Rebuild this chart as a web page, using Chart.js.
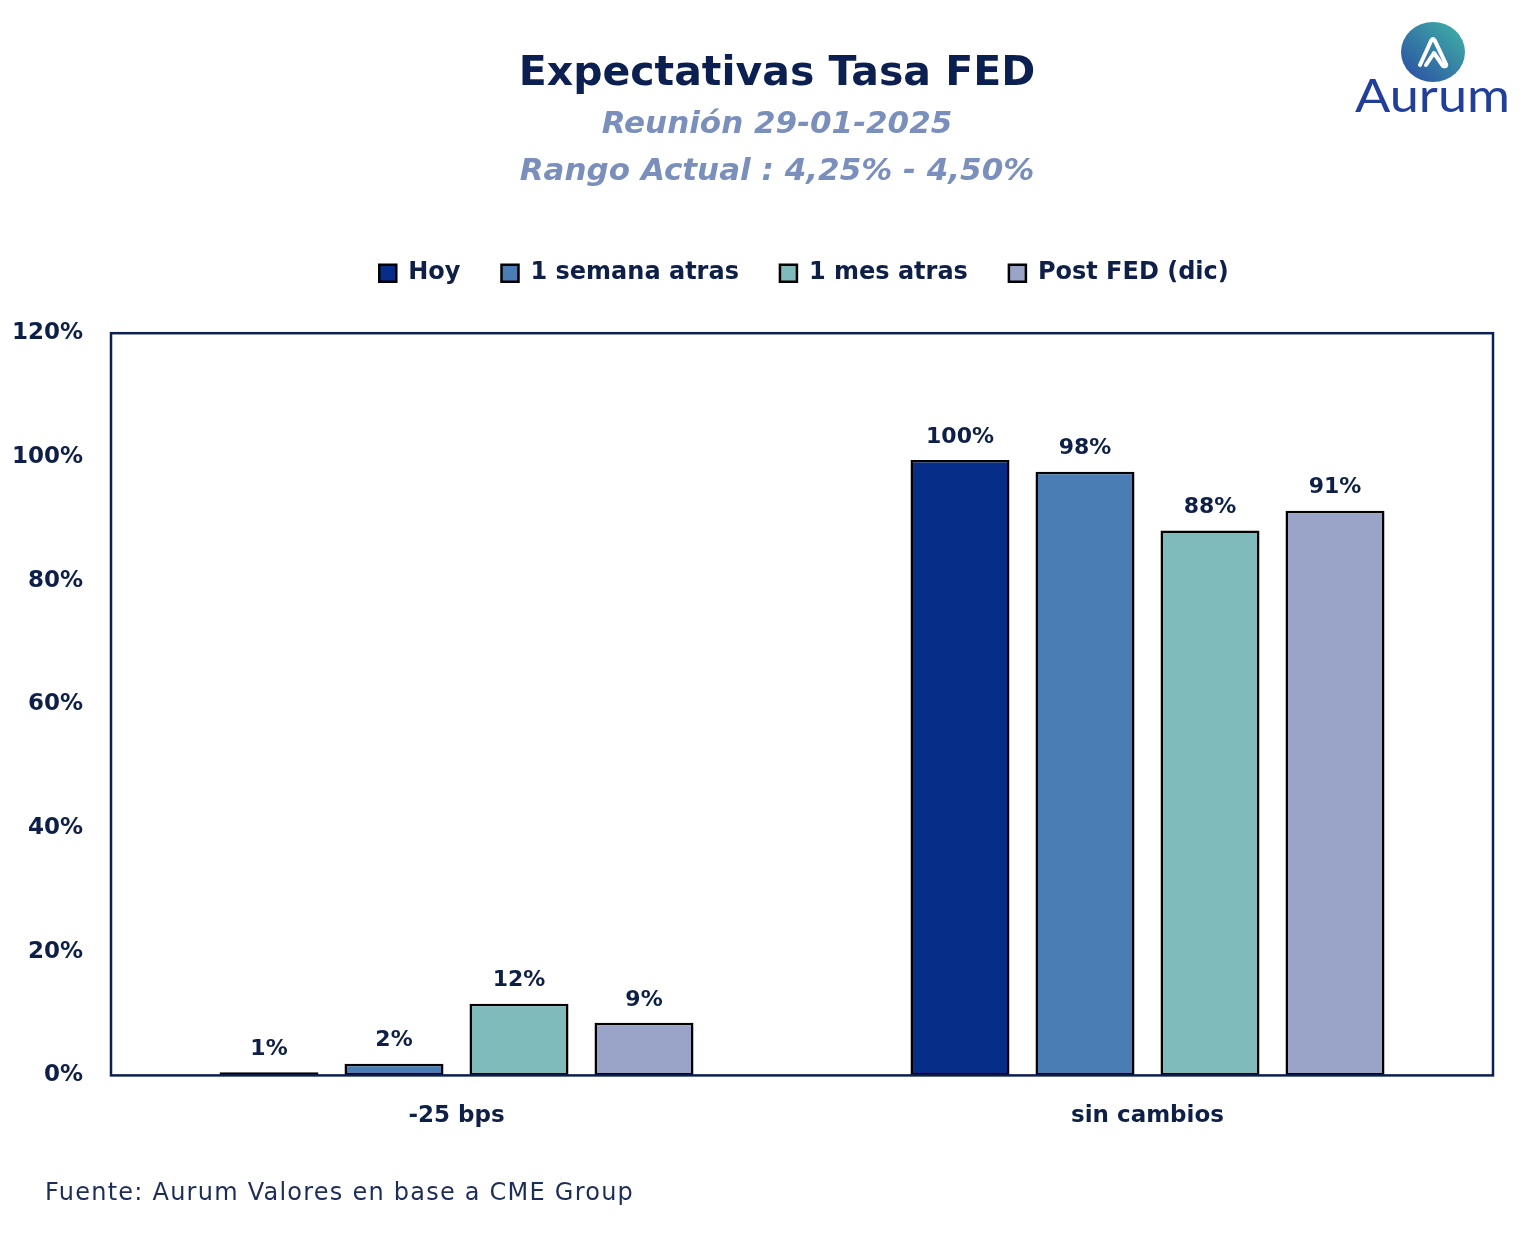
<!DOCTYPE html>
<html>
<head>
<meta charset="utf-8">
<script src="https://cdn.jsdelivr.net/npm/chart.js@4.4.1/dist/chart.umd.min.js"></script>
<style>
html, body { margin: 0; padding: 0; background: #fff; }
#wrap { position: relative; width: 1540px; height: 1260px; }
#logo { position: absolute; left: 1350px; top: 18px; }
</style>
</head>
<body>
<div id="wrap">
  <canvas id="myChart" width="1540" height="1260"></canvas>
  <svg id="logo" width="170" height="105" viewBox="0 0 170 105">
    <defs>
      <linearGradient id="lg" x1="0" y1="1" x2="1" y2="0">
        <stop offset="0" stop-color="#2a4aa4"/>
        <stop offset="1" stop-color="#41b5a6"/>
      </linearGradient>
    </defs>
    <ellipse cx="83" cy="34" rx="32" ry="30" fill="url(#lg)"/>
    <path d="M70 47 L81 23 Q83 19 85 23 L96 46 Q97 49 93 48 L84 35 L76 47" fill="none" stroke="#fff" stroke-width="4" stroke-linecap="round" stroke-linejoin="round"/>
    <text x="5" y="94" textLength="155" lengthAdjust="spacingAndGlyphs" font-family="Lato" font-size="46" fill="#213f99">Aurum</text>
  </svg>
</div>
<script>
const categories = ['-25 bps', 'sin cambios'];
const seriesNames = ['Hoy', '1 semana atras', '1 mes atras', 'Post FED (dic)'];
const hoy = [0.5, 99.5];
const unaSemana = [1.9, 97.6];
const unMes = [11.6, 88.1];
const postFed = [8.5, 91.3];
const seriesColors = ['#062d87', '#4a7db3', '#7fbbbb', '#9aa3c8'];
const yMax = 120;
const yStep = 20;

const navy = '#0b2050';
const textColor = '#0e2047';
Chart.defaults.font.family = '"DejaVu Sans"';
Chart.defaults.color = textColor;

// legend has no bottom margin option, so stretch its box a bit
// and nudge it right like in the original
const legendGap = {
  id: 'legendGap',
  beforeInit(chart) {
    const legend = chart.legend;
    const fit = legend.fit;
    legend.fit = function () {
      fit.call(this);
      this.height += 38;
      this.lineWidths[0] -= 54;
    };
  },
  afterLayout(chart) {
    // titles sit a little right of the page centre
    chart.boxes.forEach(b => {
      if (b.position === 'top') b.left += 61;
    });
  }
};

const barLabels = {
  id: 'barLabels',
  afterDatasetsDraw(chart) {
    const ctx = chart.ctx;
    ctx.save();
    ctx.font = 'bold 22px "DejaVu Sans"';
    ctx.fillStyle = textColor;
    ctx.textAlign = 'center';
    ctx.textBaseline = 'middle';
    chart.data.datasets.forEach((ds, i) => {
      chart.getDatasetMeta(i).data.forEach((bar, j) => {
        ctx.fillText(Math.round(ds.data[j]) + '%', bar.x, bar.y - 23);
      });
    });
    ctx.restore();
  }
};

const frameAndFooter = {
  id: 'frameAndFooter',
  afterDraw(chart) {
    const ctx = chart.ctx;
    const a = chart.chartArea;
    ctx.save();
    ctx.strokeStyle = navy;
    ctx.lineWidth = 2.5;
    ctx.strokeRect(a.left, a.top, a.right - a.left, a.bottom - a.top);
    const note = 'Fuente: Aurum Valores en base a CME Group';
    ctx.font = '24px "DejaVu Sans"';
    const w = ctx.measureText(note).width;
    ctx.letterSpacing = ((588 - w) / (note.length - 1)).toFixed(2) + 'px';
    ctx.fillStyle = '#1c2d58';
    ctx.textAlign = 'left';
    ctx.textBaseline = 'middle';
    ctx.fillText(note, 45, 1194);
    ctx.restore();
  }
};

const seriesData = [hoy, unaSemana, unMes, postFed];

new Chart('myChart', {
  type: 'bar',
  data: {
    labels: categories,
    datasets: seriesNames.map((name, i) => ({
      label: name,
      data: seriesData[i],
      backgroundColor: seriesColors[i],
      borderColor: '#000',
      borderWidth: 2.5,
      borderSkipped: false,
      categoryPercentage: 0.7236,
      barPercentage: 0.792
    }))
  },
  options: {
    responsive: false,
    animation: false,
    layout: { padding: { left: 0, right: 47, top: 0, bottom: 103 } },
    plugins: {
      title: {
        display: true,
        text: 'Expectativas Tasa FED',
        color: navy,
        font: { size: 41, weight: 'bold' },
        padding: { top: 50, bottom: 0 }
      },
      subtitle: {
        display: true,
        text: ['Reunión 29-01-2025', 'Rango Actual : 4,25% - 4,50%'],
        color: '#7a8fbb',
        font: { size: 31, weight: 'bold', style: 'italic', lineHeight: 1.516 },
        padding: { top: 2, bottom: 25 }
      },
      legend: {
        position: 'top',
        labels: {
          boxWidth: 17,
          boxHeight: 17,
          padding: 41,
          color: textColor,
          font: { size: 24, weight: 'bold' }
        }
      },
      tooltip: { enabled: false }
    },
    scales: {
      x: {
        grid: { display: false, drawTicks: false },
        border: { display: false },
        ticks: { padding: 27, color: textColor, font: { size: 23, weight: 'bold' } }
      },
      y: {
        min: 0,
        max: yMax,
        afterFit(scale) { scale.width = 111; },
        grid: { display: false, drawTicks: false },
        border: { display: false },
        ticks: {
          stepSize: yStep,
          padding: 28,
          color: textColor,
          font: { size: 23, weight: 'bold' },
          callback: v => v + '%'
        }
      }
    }
  },
  plugins: [legendGap, barLabels, frameAndFooter]
});
</script>
</body>
</html>
